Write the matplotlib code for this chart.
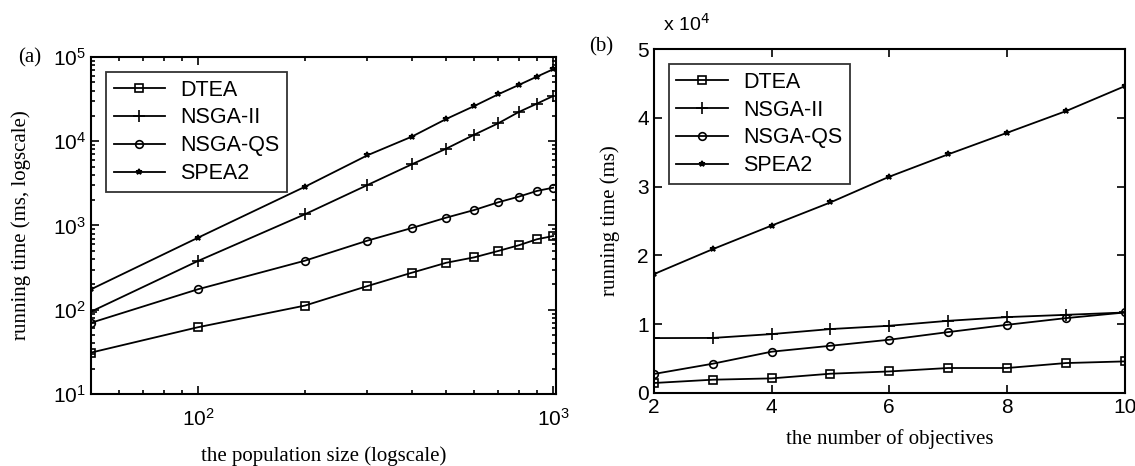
import numpy as np
import matplotlib
matplotlib.use("Agg")
from matplotlib import pyplot as plt
from matplotlib.ticker import LogLocator, NullFormatter

# (a) running time vs population size
pop_size = [50, 100, 200, 300, 400, 500, 600, 700, 800, 900, 1000]
dtea_a = [31, 62, 112, 191, 275, 361, 419, 498, 582, 686, 750]
nsgaqs_a = [70, 175, 382, 661, 933, 1239, 1528, 1883, 2198, 2570, 2810]
nsga2_a = [95, 379, 1358, 3020, 5320, 8160, 11970, 16300, 22200, 27900, 34400]
spea2_a = [175, 716, 2880, 6810, 11330, 18370, 26200, 36000, 46500, 58400, 71500]

# (b) running time vs number of objectives
n_obj = [2, 3, 4, 5, 6, 7, 8, 9, 10]
dtea_b = [1450, 1930, 2120, 2800, 3130, 3630, 3630, 4350, 4590]
nsga2_b = [7980, 8000, 8560, 9290, 9770, 10490, 11030, 11360, 11700]
nsgaqs_b = [2760, 4250, 6000, 6860, 7740, 8850, 9910, 10880, 11700]
spea2_b = [17270, 20900, 24330, 27700, 31440, 34690, 37820, 40970, 44600]

names = ["DTEA", "NSGA-II", "NSGA-QS", "SPEA2"]
markers = ["s", "+", "o", "*"]
msizes = [6, 8, 5.5, 4]

sans = ["Liberation Sans", "DejaVu Sans"]
serif = ["Liberation Serif", "DejaVu Serif"]

fig = plt.figure(figsize=(11.35, 4.66), dpi=100)
ax1 = fig.add_axes([0.0802, 0.1545, 0.4098, 0.7232])
ax2 = fig.add_axes([0.576, 0.1567, 0.415, 0.7381])

def draw(ax, x, series):
    for s, name, m, ms in zip(series, names, markers, msizes):
        ax.plot(x, s, color="black", lw=1.3, marker=m, ms=ms, mfc="none",
                mec="black", mew=1.2, label=name)
    leg = ax.legend(loc="upper left", frameon=True, fancybox=False,
                    edgecolor="black", prop={"family": sans, "size": 15.5},
                    handlelength=2.4, labelspacing=0.32, borderpad=0.35,
                    handletextpad=0.7, borderaxespad=0.7)
    leg.get_frame().set_linewidth(1.3)
    for sp in ax.spines.values():
        sp.set_linewidth(1.5)
    ax.tick_params(which="both", direction="in", top=True, right=True,
                   labelsize=15, width=1.2)
    ax.tick_params(which="major", length=6)
    ax.tick_params(which="minor", length=3)

# panel a
ax1.set_xscale("log")
ax1.set_yscale("log")
draw(ax1, pop_size, [dtea_a, nsga2_a, nsgaqs_a, spea2_a])
ax1.set_xlim(50, 1020)
ax1.set_ylim(10, 1e5)
ax1.yaxis.set_minor_locator(LogLocator(base=10, subs=np.arange(2, 10)))
ax1.yaxis.set_minor_formatter(NullFormatter())
ax1.xaxis.set_minor_formatter(NullFormatter())
ax1.tick_params(axis="x", pad=10)
ax1.set_xlabel("the population size (logscale)", family=serif, fontsize=15, labelpad=12)
ax1.set_ylabel("running time (ms, logscale)", family=serif, fontsize=15, labelpad=16)
for lab in ax1.get_xticklabels() + ax1.get_yticklabels():
    lab.set_family(sans)
fig.text(0.016, 0.875, "(a)", family=serif, fontsize=15, va="center")

# panel b
draw(ax2, n_obj, [dtea_b, nsga2_b, nsgaqs_b, spea2_b])
ax2.set_xlim(2, 10)
ax2.set_ylim(0, 5e4)
ax2.set_xticks([2, 4, 6, 8, 10])
ax2.set_yticks([0, 1e4, 2e4, 3e4, 4e4, 5e4])
ax2.set_yticklabels(["0", "1", "2", "3", "4", "5"], family=sans)
ax2.set_xticklabels(["2", "4", "6", "8", "10"], family=sans)
ax2.set_xlabel("the number of objectives", family=serif, fontsize=15, labelpad=9)
ax2.set_ylabel("running time (ms)", family=serif, fontsize=15, labelpad=12)
fig.text(0.584, 0.925, r"x 10$^4$", family=sans, fontsize=14, va="bottom")
fig.text(0.519, 0.9, "(b)", family=serif, fontsize=15, va="center")

fig.savefig("out.png", dpi=100)
